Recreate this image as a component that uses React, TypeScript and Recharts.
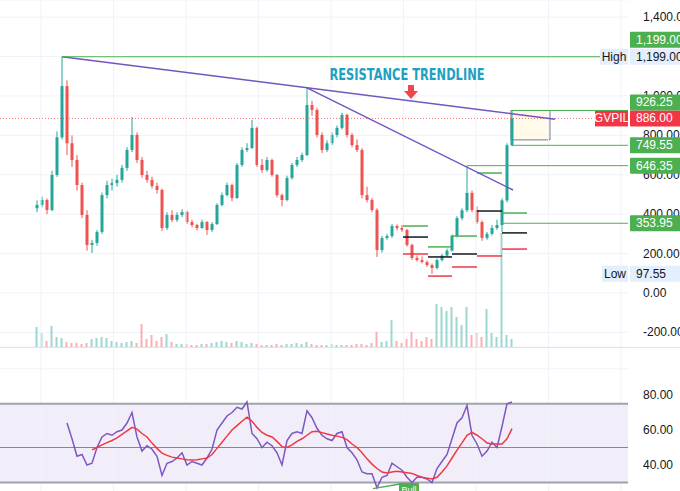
import React from "react";
import {
  ComposedChart,
  Bar,
  Line,
  XAxis,
  YAxis,
  CartesianGrid,
  ReferenceLine,
  ReferenceArea,
  ReferenceDot,
  Cell,
} from "recharts";

// daily-ish candles, GVPIL
const opens = [
  430, 447, 472, 421, 599, 790, 1050, 760, 675, 548,
  396, 244, 254, 310, 497, 548, 558, 574, 635, 726,
  802, 675, 599, 574, 543, 523, 330, 396, 371, 396,
  411, 360, 345, 330, 360, 320, 350, 447, 497, 548,
  482, 650, 726, 736, 838, 650, 624, 675, 599, 497,
  472, 584, 650, 675, 700, 954, 929, 802, 726, 760,
  802, 838, 904, 802, 751, 726, 497, 472, 421, 218,
  279, 289, 340, 330, 320, 244, 178, 167, 157, 142,
  127, 167, 190, 215, 290, 380, 420, 508, 421, 360,
  280, 300, 330, 345, 470, 750,
];
const highs = [
  470, 490, 480, 620, 820, 1199, 1080, 800, 700, 560,
  420, 270, 320, 510, 570, 580, 600, 650, 740, 893,
  815, 690, 620, 590, 560, 530, 410, 420, 410, 425,
  418, 372, 352, 372, 365, 360, 455, 510, 560, 555,
  660, 740, 760, 878, 845, 680, 690, 682, 605, 505,
  595, 660, 690, 712, 1041, 975, 940, 815, 775, 815,
  850, 915, 910, 812, 780, 735, 540, 482, 430, 290,
  300, 350, 348, 345, 325, 250, 190, 185, 165, 150,
  175, 198, 225, 298, 390, 430, 646, 520, 440, 368,
  310, 345, 372, 480, 760, 926,
];
const lows = [
  410, 435, 400, 415, 590, 780, 700, 640, 520, 380,
  215, 203, 240, 300, 480, 520, 540, 560, 620, 715,
  660, 585, 560, 530, 505, 315, 320, 360, 360, 385,
  350, 335, 318, 325, 295, 310, 345, 440, 490, 465,
  478, 640, 715, 730, 640, 610, 615, 590, 485, 440,
  465, 575, 640, 665, 695, 900, 790, 710, 715, 750,
  790, 830, 790, 740, 715, 480, 460, 410, 183, 205,
  270, 280, 318, 310, 235, 168, 160, 150, 132, 98,
  120, 160, 183, 210, 282, 370, 410, 410, 350, 265,
  270, 292, 320, 310, 460, 745,
];
const closes = [
  447, 472, 421, 599, 790, 1050, 760, 675, 548, 396,
  244, 254, 310, 497, 548, 558, 574, 635, 726, 802,
  675, 599, 574, 543, 523, 330, 396, 371, 396, 411,
  360, 345, 330, 360, 320, 350, 447, 497, 548, 482,
  650, 726, 736, 838, 650, 624, 675, 599, 497, 472,
  584, 650, 675, 700, 954, 929, 802, 726, 760, 802,
  838, 904, 802, 751, 726, 497, 472, 421, 218, 279,
  289, 340, 330, 320, 244, 178, 167, 157, 142, 127,
  167, 190, 215, 290, 380, 420, 508, 421, 360, 280,
  300, 330, 345, 470, 750, 886,
];
const volumes = [
  20, 14, 6, 21, 10, 9, 5, 4, 4, 3,
  4, 8, 9, 10, 9, 6, 5, 4, 5, 6,
  4, 23, 8, 12, 6, 10, 13, 5, 3, 3,
  3, 2, 2, 3, 3, 4, 5, 6, 5, 4,
  6, 5, 3, 4, 3, 2, 2, 2, 3, 2,
  3, 3, 4, 3, 5, 3, 2, 2, 2, 3,
  2, 2, 2, 2, 3, 3, 2, 4, 15, 5,
  6, 27, 6, 4, 8, 15, 8, 6, 10, 8,
  43, 40, 36, 40, 30, 22, 40, 12, 14, 10,
  38, 14, 10, 114, 12, 8,
];
const rsiValues: (number | null)[] = [
  null, null, null, null, null, null, 64, 55, 45, 46,
  40, 41, 50, 56, 58, 57, 59, 60, 64, 70,
  56, 48, 51, 49, 45, 34, 41, 42, 44, 47,
  40, 42, 41, 40, 44, 49, 60, 64, 68, 70,
  73, 72, 76, 58, 55, 50, 53, 51, 47, 40,
  54, 58, 59, 58, 71, 67, 61, 57, 55, 54,
  58, 59, 50, 47, 43, 36, 35, 35, 27, 33,
  34, 41, 39, 37, 33, 30, 33, 33, 32, 30,
  38, 42, 46, 55, 64, 67, 74, 57, 52, 45,
  48, 53, 50, 62, 75, 76,
];
const rsiMaValues: (number | null)[] = [
  null, null, null, null, null, null, null, null, null, null,
  null, 48.6, 50, 51.5, 52.8, 54, 55.5, 57.5, 59.5, 61.5,
  60.5, 58, 56, 52.5, 49.5, 46.8, 45.5, 44.5, 44, 43.5,
  43, 42.8, 43, 43.5, 44, 46, 49.5, 53, 56.5, 60,
  62.5, 65, 67.3, 65, 61.5, 58.6, 57, 56, 53.5, 50.5,
  50, 51.5, 53.5, 55, 57, 59, 59.3, 58.5, 57.7, 57,
  56.5, 55.8, 54.5, 52, 50, 47, 43.5, 40.5, 38, 36,
  35.5, 36, 36.4, 36, 35.6, 35.2, 34, 33, 32.5, 32,
  33, 36, 39.5, 44, 48.5, 52.6, 57, 58.6, 57, 55,
  52.6, 52, 52, 52, 55, 60.8,
];

const priceTicks = [-200, 0, 200, 400, 600, 800, 1000, 1200, 1400];
const rsiTicks = [40, 60, 80];
const timeGrid = [0.8, 15.3, 29.8, 44.3, 58.8, 73.3, 87.8, 102.3, 116.8];

// horizontal levels drawn from a candle to the price scale
const levelStarts = [95, 95, 86, 93];
const levelValues = [926.25, 749.55, 646.35, 353.95];
const levelShift = [-8, 0, 0, 0];

// pivot segments (start, end, upper / middle / lower)
const pivotStarts = [73.2, 78.2, 83, 88, 93];
const pivotEnds = [78.2, 83, 88, 93, 98];
const pivotUpper = [340, 234, 289, 609, 406];
const pivotMiddle = [284, 183, 198, 416, 305];
const pivotLower = [198, 86, 132, 188, 223];

const highPrice = 1199;
const lowPrice = 97.55;
const lastPrice = 886;

const rows = closes.map((c, i) => ({
  i,
  open: opens[i],
  high: highs[i],
  low: lows[i],
  close: c,
  hl: [lows[i], highs[i]],
  volume: volumes[i],
  rsi: rsiValues[i],
  rsiMa: rsiMaValues[i],
}));

const FONT = "'Liberation Sans', Arial, sans-serif";
const UP = "#26a69a";
const DOWN = "#ef5350";
const GREEN = "#4caf50";
const RED = "#f23645";
const PALE = "#e3effd";
const PURPLE = "#7355c0";
const GRID = "#f0f3fa";
const X_DOMAIN = [-7.4, 118.2];
const PRICE_DOMAIN = [-274, 1487];
const RSI_DOMAIN = [25.14, 106.86];
const MARGIN = { top: 0, right: 0, bottom: 0, left: 0 };

const fmt = (v: number) =>
  v.toLocaleString("en-US", { minimumFractionDigits: 2, maximumFractionDigits: 2 });

function Candle(props: any) {
  const { x, y, width, height } = props;
  const d = props.payload ?? props;
  const top = Math.min(y, y + height);
  const h = Math.abs(height);
  const k = d.high > d.low ? h / (d.high - d.low) : 0;
  const py = (p: number) => top + (d.high - p) * k;
  const cx = x + width / 2;
  const color = d.close >= d.open ? UP : DOWN;
  const bt = py(Math.max(d.open, d.close));
  const bb = py(Math.min(d.open, d.close));
  return (
    <g>
      <line x1={cx} x2={cx} y1={top} y2={top + h} stroke={color} strokeWidth={1} />
      <rect x={cx - 1.5} y={bt} width={3} height={Math.max(1, bb - bt)} fill={color} />
    </g>
  );
}

function AxisTick(props: any) {
  const { x, y, payload, skip } = props;
  if (skip && skip.includes(payload.value)) return <g />;
  return (
    <text x={x + 7} y={y} dy={4} fontSize={12} fill="#131722" fontFamily={FONT} textAnchor="start">
      {fmt(payload.value)}
    </text>
  );
}

function Badge(props: any) {
  const { viewBox, text, fill, color = "#fff", dy = 0, tag, tagWidth = 30 } = props;
  if (!viewBox) return null;
  const right = viewBox.x + viewBox.width;
  const cy = viewBox.y + dy;
  return (
    <g fontFamily={FONT} fontSize={12}>
      {tag && (
        <>
          <rect x={right - tagWidth} y={cy - 8} width={tagWidth} height={16} fill={fill} />
          <text x={right - tagWidth / 2} y={cy + 4} fill={color} textAnchor="middle">
            {tag}
          </text>
        </>
      )}
      <rect x={right + 2} y={cy - 8} width={54} height={16} fill={fill} rx={1} />
      <text x={right + 8} y={cy + 4} fill={color}>
        {text}
      </text>
    </g>
  );
}

function Caption(props: any) {
  const { cx, cy } = props;
  return (
    <text
      x={cx}
      y={cy}
      textAnchor="middle"
      fontFamily="'DejaVu Sans', sans-serif"
      fontWeight="bold"
      fontSize={15}
      fill="#1e9fc4"
      textLength={155}
      lengthAdjust="spacingAndGlyphs"
    >
      RESISTANCE TRENDLINE
    </text>
  );
}

function DownArrow(props: any) {
  const { cx, cy } = props;
  return (
    <polygon
      points={`${cx - 3},${cy} ${cx + 3},${cy} ${cx + 3},${cy + 6} ${cx + 7},${cy + 6} ${cx},${cy + 14} ${cx - 7},${cy + 6} ${cx - 3},${cy + 6}`}
      fill="#f0474f"
    />
  );
}

function BullTag(props: any) {
  const { cx, cy } = props;
  return (
    <g>
      <rect x={cx - 10} y={cy} width={20} height={14} fill={GREEN} />
      <text x={cx} y={cy + 10} fontSize={9} fill="#fff" textAnchor="middle" fontFamily={FONT}>
        Bull
      </text>
    </g>
  );
}

export default function App() {
  return (
    <div
      style={{
        position: "relative",
        width: 680,
        height: 491,
        overflow: "hidden",
        background: "#fff",
        fontFamily: FONT,
      }}
    >
      <style>{"body{margin:0;overflow:hidden}"}</style>

      {/* price pane: grid, axis, volume, candles, drawings */}
      <ComposedChart width={680} height={347} data={rows} margin={MARGIN}>
        <CartesianGrid vertical={false} stroke={GRID} />
        {timeGrid.map((t) => (
          <ReferenceLine key={t} x={t} stroke={GRID} />
        ))}
        <XAxis dataKey="i" type="number" domain={X_DOMAIN} hide allowDataOverflow />
        <XAxis xAxisId="vx" dataKey="i" type="number" domain={X_DOMAIN} hide allowDataOverflow />
        <YAxis
          orientation="right"
          width={52}
          domain={PRICE_DOMAIN}
          ticks={priceTicks}
          interval={0}
          axisLine={false}
          tickLine={false}
          allowDataOverflow
          tick={<AxisTick skip={[1200]} />}
        />
        <YAxis yAxisId="vol" domain={[0, 347]} hide allowDataOverflow />

        <Bar xAxisId="vx" yAxisId="vol" dataKey="volume" barSize={2} isAnimationActive={false}>
          {rows.map((r) => (
            <Cell key={r.i} fill={r.close >= r.open ? UP : DOWN} fillOpacity={0.45} />
          ))}
        </Bar>

        <ReferenceLine y={lastPrice} stroke={RED} strokeDasharray="1 2" strokeOpacity={0.7} />

        <ReferenceArea x1={94.8} x2={102.6} y1={777} y2={926.25} fill="#fff8e1" fillOpacity={0.7}
          stroke="#787b86" strokeWidth={1} />

        <Bar dataKey="hl" barSize={3} isAnimationActive={false} shape={<Candle />} />

        {pivotStarts.map((s, k) => (
          <React.Fragment key={s}>
            <ReferenceLine segment={[{ x: s, y: pivotUpper[k] }, { x: pivotEnds[k], y: pivotUpper[k] }]} stroke={GREEN} strokeWidth={1.5} />
            <ReferenceLine segment={[{ x: s, y: pivotMiddle[k] }, { x: pivotEnds[k], y: pivotMiddle[k] }]} stroke="#131722" strokeWidth={1.5} />
            <ReferenceLine segment={[{ x: s, y: pivotLower[k] }, { x: pivotEnds[k], y: pivotLower[k] }]} stroke={RED} strokeWidth={1.5} />
          </React.Fragment>
        ))}

        <ReferenceLine segment={[{ x: 5, y: highPrice }, { x: 103.6, y: 882 }]} stroke={PURPLE} strokeWidth={1.5} />
        <ReferenceLine segment={[{ x: 54, y: 1041 }, { x: 95.2, y: 523 }]} stroke={PURPLE} strokeWidth={1.5} />

        <ReferenceDot x={74} y={1081} r={1} shape={<Caption />} />
        <ReferenceDot x={74.8} y={1056} r={1} shape={<DownArrow />} />
      </ComposedChart>

      {/* price-scale badges, drawn above the axis labels */}
      <div style={{ position: "absolute", top: 0, left: 0, pointerEvents: "none" }}>
        <ComposedChart width={680} height={347} data={rows} margin={{ ...MARGIN, right: 52 }}>
          <XAxis dataKey="i" type="number" domain={X_DOMAIN} hide allowDataOverflow />
          <YAxis domain={PRICE_DOMAIN} hide allowDataOverflow />
          <ReferenceLine y={lastPrice} stroke="none"
            label={<Badge text={fmt(lastPrice)} fill={RED} tag="GVPIL" tagWidth={33} />} />
          <ReferenceLine segment={[{ x: 5, y: highPrice }, { x: X_DOMAIN[1], y: highPrice }]} stroke={GREEN}
            label={<Badge text={fmt(highPrice)} fill={GREEN} dy={-17} />} />
          <ReferenceLine y={highPrice} stroke="none"
            label={<Badge text={fmt(highPrice)} fill={PALE} color="#131722" tag="High" tagWidth={28} />} />
          <ReferenceLine y={lowPrice} stroke="none"
            label={<Badge text={fmt(lowPrice)} fill={PALE} color="#131722" tag="Low" tagWidth={26} />} />
          {levelValues.map((v, k) => (
            <ReferenceLine key={v} segment={[{ x: levelStarts[k], y: v }, { x: X_DOMAIN[1], y: v }]}
              stroke={GREEN} label={<Badge text={fmt(v)} fill={GREEN} dy={levelShift[k]} />} />
          ))}
        </ComposedChart>
      </div>

      {/* RSI pane */}
      <div style={{ position: "absolute", top: 347, left: 0, width: 680, borderTop: "1px solid #e0e3eb" }}>
        <ComposedChart width={680} height={143} data={rows} margin={MARGIN}>
          <XAxis dataKey="i" type="number" domain={X_DOMAIN} hide allowDataOverflow />
          <YAxis
            orientation="right"
            width={52}
            domain={RSI_DOMAIN}
            ticks={rsiTicks}
            interval={0}
            axisLine={false}
            tickLine={false}
            allowDataOverflow
            tick={<AxisTick />}
          />
          <ReferenceLine y={95} stroke={GRID} />
          {timeGrid.map((t) => (
            <ReferenceLine key={t} x={t} stroke={GRID} />
          ))}
          <ReferenceArea y1={30} y2={75} fill="#7e57c2" fillOpacity={0.1} stroke="none" />
          <ReferenceLine y={75} stroke="#a0a3ab" strokeWidth={2} />
          <ReferenceLine y={30} stroke="#a0a3ab" strokeWidth={2} />
          <ReferenceLine y={50} stroke={GREEN} />
          <Line dataKey="rsi" stroke="#7e57c2" strokeWidth={1.5} dot={false} isAnimationActive={false} />
          <Line dataKey="rsiMa" stroke="#f23645" strokeWidth={1.5} dot={false} isAnimationActive={false} />
          <ReferenceLine segment={[{ x: 67.2, y: 26.5 }, { x: 72.6, y: 29.2 }]} stroke={GREEN} strokeWidth={1.5} />
          <ReferenceDot x={74.4} y={29.7} r={1} shape={<BullTag />} />
        </ComposedChart>
      </div>
    </div>
  );
}
